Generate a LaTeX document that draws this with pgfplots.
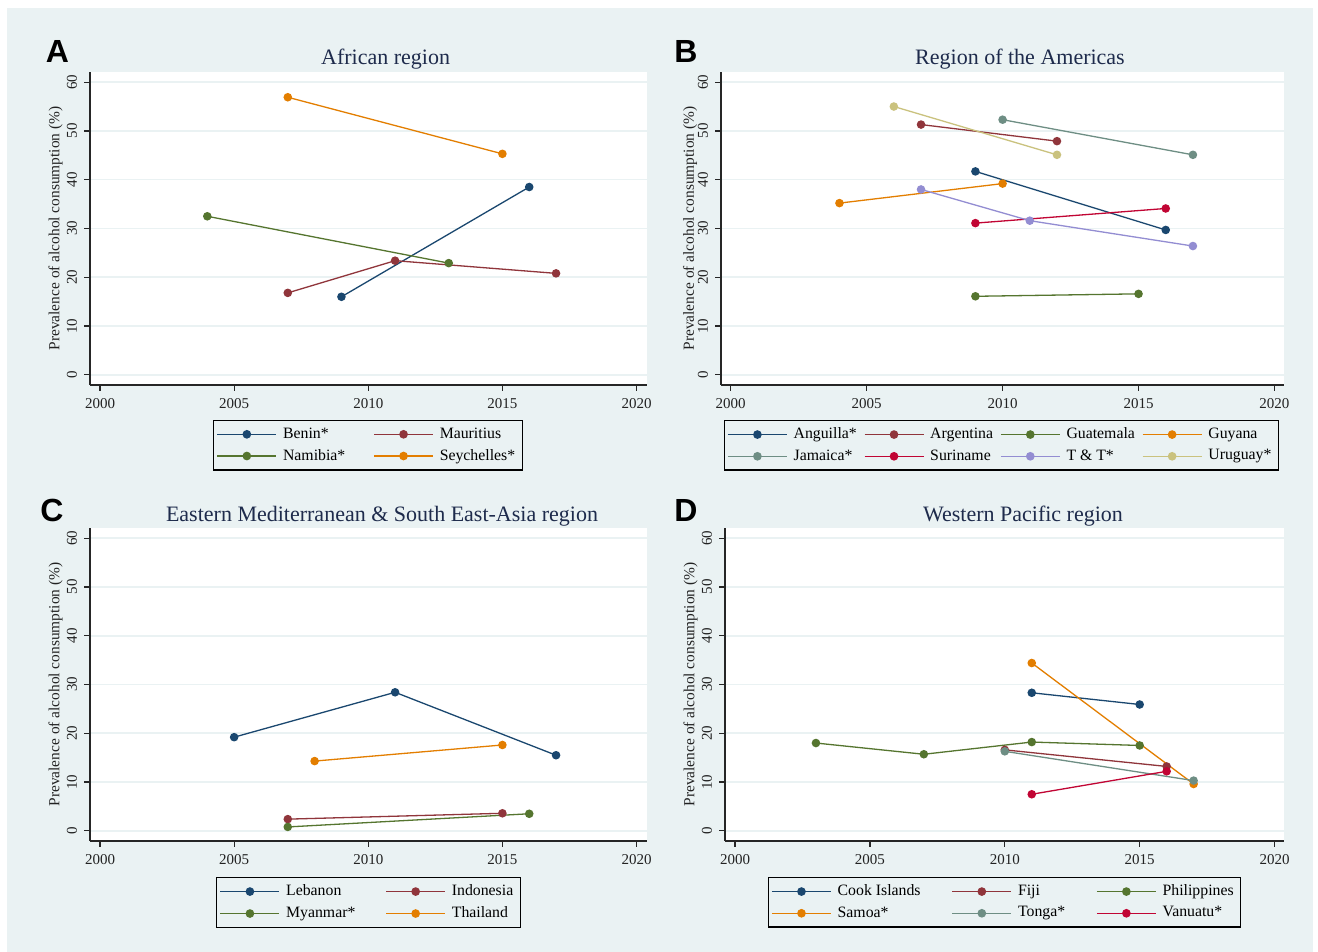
\documentclass[border=0pt]{standalone}
\usepackage{fontspec}
\setmainfont{Liberation Serif}
\newfontfamily\sansfnt{Liberation Sans}
\usepackage{pgfplots}
\pgfplotsset{compat=1.18}
\definecolor{bg}{HTML}{EAF2F3}
\definecolor{sNavy}{HTML}{1A476F}
\definecolor{sMaroon}{HTML}{90353B}
\definecolor{sGreen}{HTML}{55752F}
\definecolor{sOrange}{HTML}{E37E00}
\definecolor{sTeal}{HTML}{6E8E84}
\definecolor{sCran}{HTML}{C10534}
\definecolor{sLav}{HTML}{938DD2}
\definecolor{sKhaki}{HTML}{CAC27E}
\definecolor{titlec}{HTML}{1E2B4C}
\definecolor{txt}{HTML}{222222}

\pgfplotsset{
  ser/.style={color=#1, mark=*, mark size=1.8pt, line width=0.65pt, mark options={solid, fill=#1}},
  panel/.style={
    scale only axis, height=156.5pt,
    ymin=-2.08, ymax=62.08,
    axis x line=bottom, axis y line=left,
    axis line style={-, draw=black!85, line width=0.7pt},
    axis background/.style={fill=white},
    ytick={0,10,...,60}, xtick={2000,2005,...,2020},
    ymajorgrids, grid style={draw=bg, line width=0.8pt},
    tick align=outside, major tick length=3pt,
    tick style={draw=black!85, line width=0.6pt},
    /pgf/number format/1000 sep={},
    /pgf/number format/assume math mode=true,
    tick label style={font=\fontsize{7.5}{8}\selectfont, text=txt},
    yticklabel style={rotate=90, anchor=south},
    ylabel={Prevalence of alcohol consumption (\%)},
    ylabel style={font=\fontsize{7.7}{9}\selectfont, text=txt, anchor=center},
    legend style={draw=black, line width=0.6pt, fill=bg, text=black,
      font=\fontsize{7.9}{9}\selectfont, anchor=north, inner sep=1.5pt,
      /tikz/every odd column/.append style={column sep=1pt}},
    legend cell align=left,
    legend image code/.code={\draw[mark repeat=2,mark phase=2,##1,line width=0.7pt] plot coordinates {(0pt,0pt) (14.75pt,0pt) (29.5pt,0pt)};},
  },
  gap/.style={legend style={/tikz/every even column/.append style={column sep=#1}}}
}

\begin{document}
\begin{tikzpicture}
\useasboundingbox (0,0) rectangle (659pt,476pt);
\fill[white] (0,0) rectangle (659pt,476pt);
\fill[bg] (3.5pt,0) rectangle (656.5pt,472pt);

% Panel A
\begin{axis}[panel, at={(45pt,283.5pt)}, anchor=south west, width=278.5pt,
  xmin=1999.627, xmax=2020.39,
  ylabel style={at={(axis description cs:-0.0619,0.5)}},
  legend columns=2, gap=12pt, legend style={at={(0.499,-0.1118)}}]
\addplot[ser=sNavy] coordinates {(2009,16.0) (2016,38.5)};
\addlegendentry{Benin*}
\addplot[ser=sMaroon] coordinates {(2007,16.8) (2011,23.4) (2017,20.8)};
\addlegendentry{Mauritius}
\addplot[ser=sGreen] coordinates {(2004,32.5) (2013,22.9)};
\addlegendentry{Namibia*}
\addplot[ser=sOrange] coordinates {(2007,56.9) (2015,45.3)};
\addlegendentry{Seychelles*}
\end{axis}

% Panel B
\begin{axis}[panel, at={(360.5pt,283.5pt)}, anchor=south west, width=281.5pt,
  xmin=1999.643, xmax=2020.35,
  ylabel style={at={(axis description cs:-0.0551,0.5)}},
  legend columns=4, gap=1.5pt, legend style={at={(0.498,-0.1118)}}]
\addplot[ser=sNavy] coordinates {(2009,41.7) (2016,29.7)};
\addlegendentry{Anguilla*}
\addplot[ser=sMaroon] coordinates {(2007,51.3) (2012,47.9)};
\addlegendentry{Argentina}
\addplot[ser=sGreen] coordinates {(2009,16.1) (2015,16.6)};
\addlegendentry{Guatemala}
\addplot[ser=sOrange] coordinates {(2004,35.2) (2010,39.2)};
\addlegendentry{Guyana}
\addplot[ser=sTeal] coordinates {(2010,52.3) (2017,45.1)};
\addlegendentry{Jamaica*}
\addplot[ser=sCran] coordinates {(2009,31.1) (2016,34.1)};
\addlegendentry{Suriname}
\addplot[ser=sLav] coordinates {(2007,38.0) (2011,31.6) (2017,26.4)};
\addlegendentry{T \& T*}
\addplot[ser=sKhaki] coordinates {(2006,55.0) (2012,45.1)};
\addlegendentry{Uruguay*}
\end{axis}

% Panel C
\begin{axis}[panel, at={(45pt,55.5pt)}, anchor=south west, width=278.5pt,
  xmin=1999.627, xmax=2020.39,
  ylabel style={at={(axis description cs:-0.0619,0.5)}},
  legend columns=2, gap=13pt, legend style={at={(0.5,-0.115)}}]
\addplot[ser=sNavy] coordinates {(2005,19.2) (2011,28.4) (2017,15.5)};
\addlegendentry{Lebanon}
\addplot[ser=sMaroon] coordinates {(2007,2.4) (2015,3.6)};
\addlegendentry{Indonesia}
\addplot[ser=sGreen] coordinates {(2007,0.8) (2016,3.5)};
\addlegendentry{Myanmar*}
\addplot[ser=sOrange] coordinates {(2008,14.3) (2015,17.6)};
\addlegendentry{Thailand}
\end{axis}

% Panel D
\begin{axis}[panel, at={(362.5pt,55.5pt)}, anchor=south west, width=279.5pt,
  xmin=1999.629, xmax=2020.35,
  ylabel style={at={(axis description cs:-0.0617,0.5)}},
  legend columns=3, gap=13.5pt, legend style={at={(0.5,-0.115)}}]
\addplot[ser=sNavy] coordinates {(2011,28.3) (2015,25.9)};
\addlegendentry{Cook Islands}
\addplot[ser=sMaroon] coordinates {(2010,16.6) (2016,13.2)};
\addlegendentry{Fiji}
\addplot[ser=sGreen] coordinates {(2003,18.0) (2007,15.7) (2011,18.2) (2015,17.5)};
\addlegendentry{Philippines}
\addplot[ser=sOrange] coordinates {(2011,34.4) (2017,9.6)};
\addlegendentry{Samoa*}
\addplot[ser=sTeal] coordinates {(2010,16.3) (2017,10.3)};
\addlegendentry{Tonga*}
\addplot[ser=sCran] coordinates {(2011,7.5) (2016,12.2)};
\addlegendentry{Vanuatu*}
\end{axis}

% Titles
\node[anchor=base, font=\fontsize{11}{12}\selectfont, text=titlec, inner sep=0] at (192.8pt,443.5pt) {African region};
\node[anchor=base, font=\fontsize{11}{12}\selectfont, text=titlec, inner sep=0] at (510pt,443.5pt) {Region of the Americas};
\node[anchor=base, font=\fontsize{11}{12}\selectfont, text=titlec, inner sep=0] at (191pt,215pt) {Eastern Mediterranean \& South East-Asia region};
\node[anchor=base, font=\fontsize{11}{12}\selectfont, text=titlec, inner sep=0] at (511.5pt,215pt) {Western Pacific region};
% Panel letters
\node[anchor=base, font=\sansfnt\bfseries\fontsize{16}{18}\selectfont, inner sep=0] at (28.75pt,444.5pt) {A};
\node[anchor=base, font=\sansfnt\bfseries\fontsize{16}{18}\selectfont, inner sep=0] at (343pt,444.5pt) {B};
\node[anchor=base, font=\sansfnt\bfseries\fontsize{16}{18}\selectfont, inner sep=0] at (26pt,215pt) {C};
\node[anchor=base, font=\sansfnt\bfseries\fontsize{16}{18}\selectfont, inner sep=0] at (343pt,215pt) {D};
\end{tikzpicture}
\end{document}
